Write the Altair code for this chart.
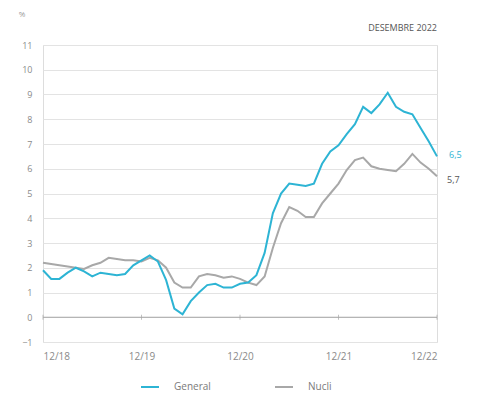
import altair as alt
import pandas as pd

# Monthly index: 0 = Dec 2018 ... 48 = Dec 2022
months = list(range(49))

general = [1.9, 1.55, 1.55, 1.8, 2.0, 1.85, 1.65, 1.8, 1.75, 1.7, 1.75, 2.1,
           2.3, 2.5, 2.25, 1.5, 0.35, 0.12, 0.65, 1.0, 1.3, 1.35, 1.2, 1.2,
           1.35, 1.4, 1.7, 2.6, 4.2, 5.0, 5.4, 5.35, 5.3, 5.4, 6.2, 6.7,
           6.95, 7.4, 7.8, 8.5, 8.25, 8.6, 9.07, 8.5, 8.3, 8.2, 7.65, 7.1,
           6.5]

nucli = [2.2, 2.15, 2.1, 2.05, 2.0, 1.95, 2.1, 2.2, 2.4, 2.35, 2.3, 2.3,
         2.25, 2.4, 2.3, 2.0, 1.4, 1.2, 1.2, 1.65, 1.75, 1.7, 1.6, 1.65,
         1.55, 1.4, 1.3, 1.65, 2.8, 3.8, 4.45, 4.3, 4.05, 4.05, 4.6, 5.0,
         5.4, 5.95, 6.35, 6.45, 6.1, 6.0, 5.95, 5.9, 6.2, 6.6, 6.25, 6.0,
         5.7]

series_names = ["General", "Nucli"]
series_colors = ["#2db4d4", "#a8a8a8"]
tick_positions = [0, 12, 24, 36, 48]
tick_labels = ["12/18", "12/19", "12/20", "12/21", "12/22"]
y_ticks = list(range(-1, 12))
period_label = "DESEMBRE 2022"

FONT = "Open Sans"

df = pd.concat([
    pd.DataFrame({"t": months, "v": general, "serie": "General"}),
    pd.DataFrame({"t": months, "v": nucli, "serie": "Nucli"}),
])

label_expr = " : ".join(
    f"datum.value == {p} ? '{l}'" for p, l in zip(tick_positions, tick_labels)
) + " : ''"

x_scale = alt.Scale(domain=[0, 48], nice=False, zero=False)
y_scale = alt.Scale(domain=[-1, 11], nice=False)

x_axis = alt.Axis(
    values=tick_positions, labelExpr=label_expr, title=None, grid=False,
    domain=False, ticks=False, labelPadding=9, labelFontSize=10,
    labelColor="#8a8a8a", labelFont=FONT, labelOverlap=False)

y_axis = alt.Axis(
    values=y_ticks, title=None, grid=True, gridColor="#e3e3e3",
    gridWidth=1, domain=False, ticks=False, labelPadding=11,
    labelFontSize=9, labelColor="#8a8a8a", labelFont=FONT,
    labelOverlap=False, format="d")


def xq():
    return alt.X("t:Q", scale=x_scale, axis=x_axis)


def yq():
    return alt.Y("v:Q", scale=y_scale, axis=y_axis)


color_enc = alt.Color(
    "serie:N", sort=series_names,
    scale=alt.Scale(domain=series_names, range=series_colors),
    legend=alt.Legend(
        title=None, orient="none", direction="horizontal",
        legendX=97, legendY=332, padding=0,
        symbolType="stroke", symbolSize=324,
        symbolStrokeWidth=2, labelOffset=14,
        columnPadding=60, labelFontSize=10,
        labelColor="#7a7a7a", labelFont=FONT))

# core series drawn first so the headline series sits on top
line_nucli = alt.Chart(df[df["serie"] == "Nucli"]).mark_line(
    strokeWidth=2).encode(x=xq(), y=yq(), color=color_enc)
line_general = alt.Chart(df[df["serie"] == "General"]).mark_line(
    strokeWidth=2).encode(x=xq(), y=yq(), color=color_enc)

# zero baseline with small year ticks
zero_df = pd.DataFrame({"t": tick_positions, "v": [0] * len(tick_positions)})
zero_rule = alt.Chart(pd.DataFrame({"v": [0]})).mark_rule(
    color="#a6a6a6", strokeWidth=1).encode(
    y=yq(), x=alt.value(0), x2=alt.value(394))
zero_ticks = alt.Chart(zero_df).mark_tick(
    color="#a6a6a6", orient="vertical", size=5, thickness=1).encode(
    x=xq(), y=yq())

# end-of-series value labels
last = df[df["t"] == 48].copy()
last["txt"] = last["v"].map(lambda v: f"{v:.1f}".replace(".", ","))
end_general = alt.Chart(last[last["serie"] == "General"]).mark_text(
    align="left", dx=12, dy=-1, fontSize=9, font=FONT, color="#2db4d4").encode(
    x=xq(), y=yq(), text="txt:N")
end_nucli = alt.Chart(last[last["serie"] == "Nucli"]).mark_text(
    align="left", dx=10, dy=4, fontSize=9, font=FONT, color="#555555").encode(
    x=xq(), y=yq(), text="txt:N")

unit = alt.Chart(pd.DataFrame({"u": ["%"]})).mark_text(
    fontSize=8, font=FONT, color="#9a9a9a", align="center").encode(
    x=alt.value(-21), y=alt.value(-30), text="u:N")

period = alt.Chart(pd.DataFrame({"p": [period_label]})).mark_text(
    fontSize=9, font=FONT, color="#555555", align="right",
    baseline="middle").encode(
    x=alt.value(394), y=alt.value(-17), text="p:N")

chart = alt.layer(line_nucli, line_general, zero_rule, zero_ticks,
                  end_general, end_nucli, unit, period).properties(
    width=394, height=297,
    autosize=alt.AutoSizeParams(type="none"),
    padding={"left": 43, "top": 45, "right": 55, "bottom": 54},
).configure_view(stroke=None).configure(background="white")

chart.save("out.html", embed_options={"renderer": "svg", "actions": False})
